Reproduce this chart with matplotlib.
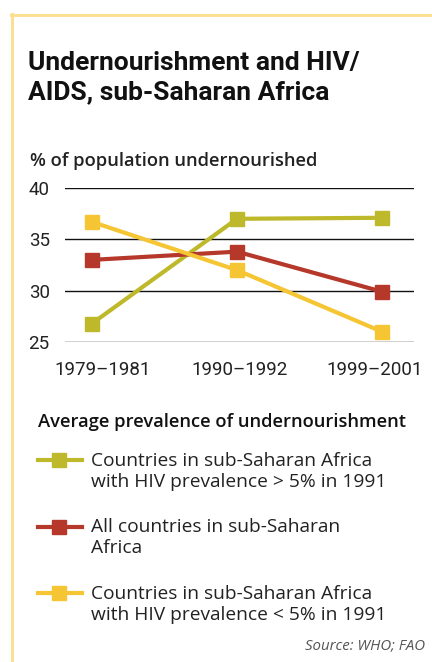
import matplotlib
matplotlib.use("Agg")
import matplotlib.pyplot as plt
from matplotlib.lines import Line2D
from matplotlib.transforms import offset_copy

plt.rcParams['font.family'] = ['Open Sans', 'DejaVu Sans']

# data
periods = ['1979–1981', '1990–1992', '1999–2001']
hiv_high = [26.8, 37.0, 37.1]
all_ssa = [33.0, 33.8, 29.9]
hiv_low = [36.7, 32.0, 26.0]
yticks = [25, 30, 35, 40]

labels = ['Countries in sub-Saharan Africa\nwith HIV prevalence > 5% in 1991',
          'All countries in sub-Saharan\nAfrica',
          'Countries in sub-Saharan Africa\nwith HIV prevalence < 5% in 1991']
colors = ['#bdb92a', '#b5382a', '#f5c533']
series = [hiv_high, all_ssa, hiv_low]

W, H = 432, 662
fig = plt.figure(figsize=(W / 100, H / 100), dpi=100)

def fx(px):
    return px / W

def fy(py):
    return 1 - py / H

# frame (top + left border)
border = '#fbdf93'
fig.add_artist(Line2D([fx(11), 1], [fy(14.5), fy(14.5)], color=border, lw=2.2))
fig.add_artist(Line2D([fx(11.5), fx(11.5)], [fy(13.5), fy(660)], color=border, lw=2.2))

fig.text(fx(28), fy(51), 'Undernourishment and HIV/\nAIDS, sub-Saharan Africa',
         fontsize=19, fontweight='bold', va='top', ha='left', color='#111111',
         linespacing=1.25, family=['Roboto', 'DejaVu Sans'])
fig.text(fx(30), fy(161), '% of population undernourished', fontsize=13.2,
         fontweight='semibold', va='center', ha='left', color='#222222')

ax = fig.add_axes([fx(65), fy(342), fx(414) - fx(65), fy(188) - fy(342)])
x = list(range(len(periods)))
for vals, c in zip(series, colors):
    ax.plot(x, vals, color=c, lw=3, marker='s', markersize=9.5, zorder=3)
ax.set_ylim(25, 40)
ax.set_xlim(-0.186, 2.22)
ax.set_yticks(yticks)
ax.set_xticks(x)
ax.set_xticklabels(periods)
ax.yaxis.grid(True, color='#111111', lw=1)
ax.set_axisbelow(True)
for s in ax.spines.values():
    s.set_visible(False)
ax.tick_params(length=0, labelsize=13.5, labelcolor='#222222')
ax.tick_params(axis='y', pad=11)
ax.tick_params(axis='x', pad=14)
for lbl in ax.get_xticklabels() + ax.get_yticklabels():
    lbl.set_family(['Roboto', 'DejaVu Sans'])
# the period labels sit a little off the points in the original
for lbl, dx in zip(ax.get_xticklabels(), [11, 3, -7]):
    lbl.set_transform(offset_copy(lbl.get_transform(), fig=fig, x=dx, y=0, units='dots'))
ax.set_facecolor('none')

# legend block
lax = fig.add_axes([0, 0, 1, 1])
lax.set_xlim(0, W)
lax.set_ylim(H, 0)
lax.axis('off')
lax.text(38, 422, 'Average prevalence of undernourishment', fontsize=13.2,
         fontweight='semibold', va='center', ha='left', color='#111111')
for i, (lab, c) in enumerate(zip(labels, colors)):
    yy = 460 + i * 66.5
    lax.plot([38, 82], [yy, yy], color=c, lw=3)
    lax.plot([59], [yy], color=c, marker='s', markersize=9.5, lw=0)
    lax.text(91, yy - 8, lab, fontsize=13.8, va='top', ha='left',
             color='#222222', linespacing=1.2)

fig.text(fx(425), fy(646), 'Source: WHO; FAO', fontsize=10.8, style='italic',
         va='center', ha='right', color='#555555')

fig.savefig('out.png', dpi=100)
